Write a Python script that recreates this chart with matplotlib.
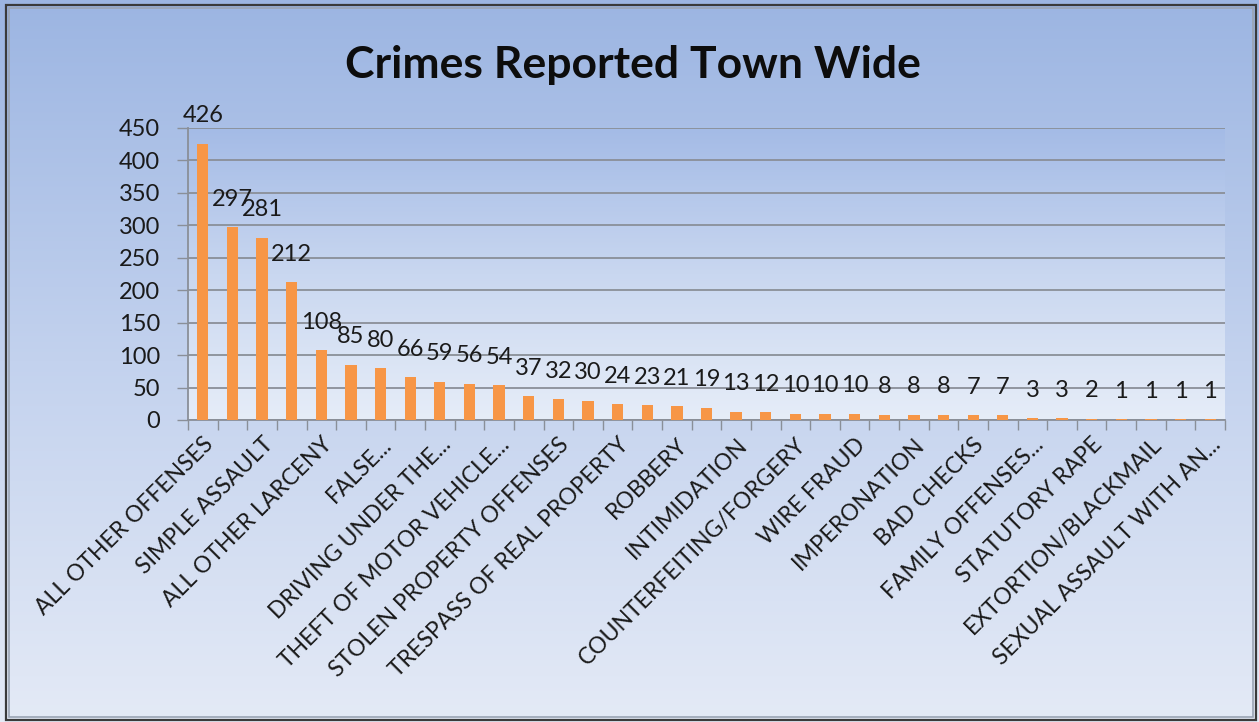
import numpy as np
import matplotlib
matplotlib.use("Agg")
import matplotlib.pyplot as plt
from matplotlib.colors import LinearSegmentedColormap
from matplotlib.patches import Rectangle

# ---- data ----
title = "Crimes Reported Town Wide"
values = [426, 297, 281, 212, 108, 85, 80, 66, 59, 56, 54, 37, 32, 30, 24, 23,
          21, 19, 13, 12, 10, 10, 10, 8, 8, 8, 7, 7, 3, 3, 2, 1, 1, 1, 1]
tick_labels = ["ALL OTHER OFFENSES", "SIMPLE ASSAULT", "ALL OTHER LARCENY",
               "FALSE...", "DRIVING UNDER THE...", "THEFT OF MOTOR VEHICLE...",
               "STOLEN PROPERTY OFFENSES", "TRESPASS OF REAL PROPERTY",
               "ROBBERY", "INTIMIDATION", "COUNTERFEITING/FORGERY",
               "WIRE FRAUD", "IMPERONATION", "BAD CHECKS",
               "FAMILY OFFENSES...", "STATUTORY RAPE", "EXTORTION/BLACKMAIL",
               "SEXUAL ASSAULT WITH AN..."]
y_ticks = [0, 50, 100, 150, 200, 250, 300, 350, 400, 450]

plt.rcParams['font.family'] = ['Lato', 'DejaVu Sans']

W, H = 1259, 722
fig = plt.figure(figsize=(W / 100, H / 100), dpi=100)

# figure background gradient
bg = fig.add_axes([0, 0, 1, 1], zorder=-10)
bg_cmap = LinearSegmentedColormap.from_list("bg", ["#9cb5e2", "#c3d2ee", "#e4eaf6"])
grad = np.linspace(0, 1, 256).reshape(-1, 1)
bg.imshow(grad, cmap=bg_cmap, aspect='auto', extent=[0, 1, 0, 1], origin='upper')
bg.set_xlim(0, 1); bg.set_ylim(0, 1)
bg.axis('off')
# frame
bg.add_patch(Rectangle((6 / W, 2 / H), (W - 9) / W, (H - 7) / H, fill=False,
                       edgecolor='#3a3a3a', linewidth=1.6))
bg.add_patch(Rectangle((9 / W, 5 / H), (W - 15) / W, (H - 13) / H, fill=False,
                       edgecolor='#9aa4b4', linewidth=1.2))

left, right, top, bottom = 188, 1225, 128, 420
ax = fig.add_axes([left / W, (H - bottom) / H, (right - left) / W, (bottom - top) / H])
ax.patch.set_visible(False)

# plot area gradient
pa_cmap = LinearSegmentedColormap.from_list("pa", ["#a4bbe6", "#c9d7f0", "#e6edf8"])
ax.imshow(grad, cmap=pa_cmap, aspect='auto', extent=[0, 1, 0, 1], origin='upper',
          transform=ax.transAxes, zorder=0)

x = np.arange(len(values))
ax.bar(x, values, width=0.38, color='#f79646', zorder=3)
ax.set_xlim(-0.5, len(values) - 0.5)
ax.set_ylim(0, 450)

# value labels
for xi, v in zip(x, values):
    ax.annotate(str(v), (xi, v), xytext=(0, 12.5), textcoords='offset points',
                ha='center', va='bottom', fontsize=17, color='#1a1a1a', zorder=4)

# grid
ax.set_yticks(y_ticks)
ax.yaxis.grid(True, color='#8a8f98', linewidth=1.3, zorder=1)
ax.set_axisbelow(True)
ax.tick_params(axis='y', length=8, width=1.0, color='#8a8f98', labelsize=17,
               pad=12, labelcolor='#1a1a1a')

# x ticks: marks at category boundaries, labels at every other bar
ax.set_xticks(np.arange(-0.5, len(values), 1.0), minor=True)
ax.set_xticks(x[::2])
ax.set_xticklabels(tick_labels, rotation=45, ha='right', va='top',
                   rotation_mode='anchor', fontsize=16.5, color='#1a1a1a')
ax.tick_params(axis='x', which='major', length=0, pad=10)
ax.tick_params(axis='x', which='minor', length=7, width=1.0, color='#8a8f98')

for s in ['top', 'right']:
    ax.spines[s].set_visible(False)
for s in ['left', 'bottom']:
    ax.spines[s].set_color('#8a8f98')
    ax.spines[s].set_linewidth(1.3)

fig.text(633 / W, 1 - 65 / H, title, ha='center', va='center',
         fontsize=32, fontweight='bold', color='#0d0d0d')

fig.savefig("out.png", dpi=100)
